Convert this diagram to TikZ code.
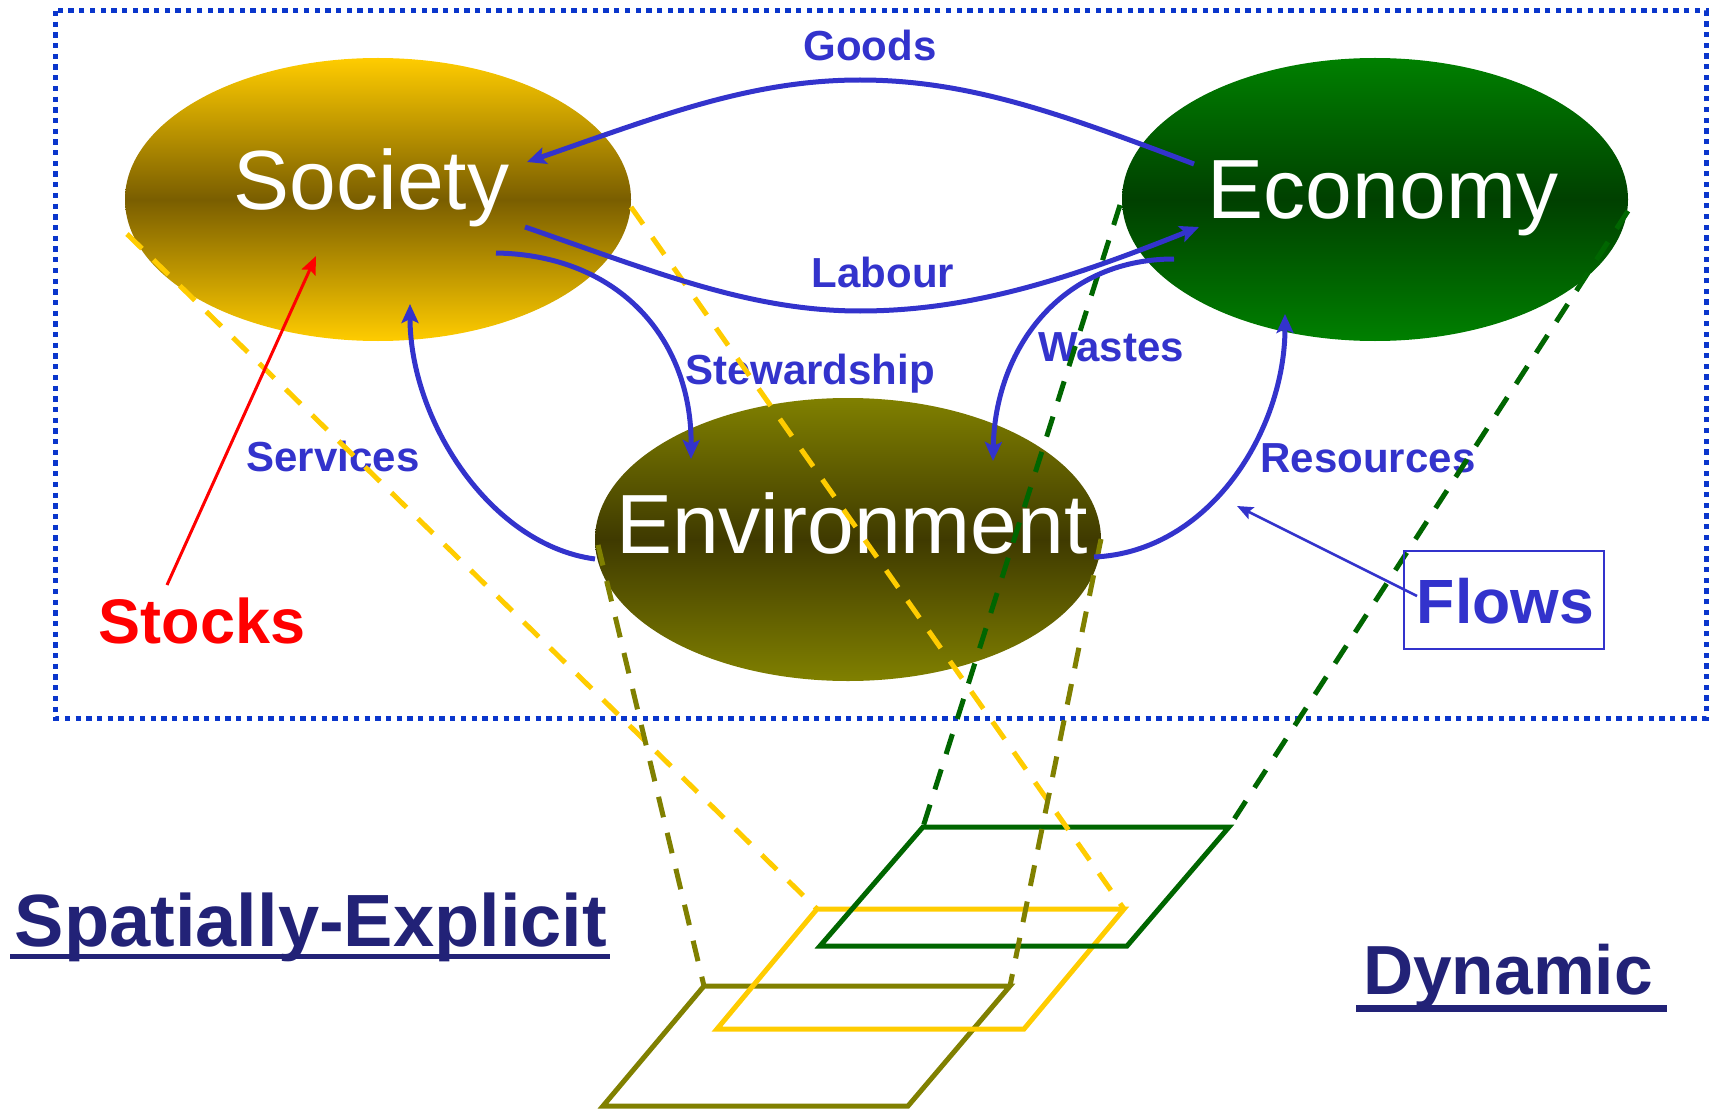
\documentclass[tikz,border=0pt]{standalone}
\usepackage{fontspec}
\setmainfont{Liberation Sans}
\usetikzlibrary{arrows.meta,shapes.geometric}
\definecolor{flowblue}{HTML}{3333CC}
\definecolor{boxblue}{HTML}{0A36CC}
\definecolor{navy}{HTML}{222277}
\definecolor{socY}{HTML}{FFCC00}
\definecolor{socD}{HTML}{7A5E00}
\definecolor{envY}{HTML}{808000}
\definecolor{envD}{HTML}{3F3A00}
\definecolor{ecoY}{HTML}{008000}
\definecolor{ecoD}{HTML}{004000}
\definecolor{pYel}{HTML}{FFCC00}
\definecolor{pOli}{HTML}{808000}
\definecolor{pGrn}{HTML}{006600}
\tikzset{
  blob/.style={ellipse, inner sep=0pt, minimum width=506pt, minimum height=283pt},
  blobtext/.style={anchor=base, inner sep=0pt, text=white, font=\fontsize{84}{84}\selectfont},
  flowlabel/.style={anchor=base, inner sep=0pt, text=flowblue, font=\bfseries\fontsize{42}{42}\selectfont},
  flowarrow/.style={draw=flowblue, line width=5pt, -{Stealth[length=19pt,width=17pt,inset=4pt]}},
  proj/.style={line width=5pt, dash pattern=on 21pt off 16pt},
  para/.style={line width=5pt, line join=miter},
  bigtitle/.style={anchor=base, inner sep=0pt, text=navy},
}
\begin{document}
\begin{tikzpicture}[x=1pt,y=-1pt]
\useasboundingbox (0,0) rectangle (1713,1110);
% dotted frame
\draw[boxblue, line width=5pt, dash pattern=on 5.3pt off 5.4pt] (55,11) rectangle (1706,718);
% ellipses
\node[blob, top color=socY, bottom color=socY, middle color=socD] (soc) at (378,199.5) {};
\node[blob, top color=ecoY, bottom color=ecoY, middle color=ecoD] (eco) at (1375,199.5) {};
\node[blob, top color=envY, bottom color=envY, middle color=envD] (env) at (848,539.5) {};
\node[blobtext] (socT) at (371.5,210) {Society};
\node[blobtext] (ecoT) at (1383,218.6) {Economy};
\node[blobtext] (envT) at (852,553) {Environment};
% flow labels
\node[flowlabel] (lGoods) at (870,61) {Goods};
\node[flowlabel] (lLabour) at (883,287.5) {Labour};
\node[flowlabel] (lStew) at (810,384) {Stewardship};
\node[flowlabel] (lWastes) at (1111,361) {Wastes};
\node[flowlabel] (lServ) at (333,471) {Services};
\node[flowlabel] (lRes) at (1368,472.5) {Resources};
% parallelograms (layers)
\coordinate (oTL) at (704,986); \coordinate (oTR) at (1010,986);
\coordinate (oBR) at (908,1106); \coordinate (oBL) at (603,1106);
\coordinate (yTL) at (817,909); \coordinate (yTR) at (1124,909);
\coordinate (yBR) at (1024,1029); \coordinate (yBL) at (717,1029);
\coordinate (gTL) at (923,827); \coordinate (gTR) at (1229,827);
\coordinate (gBR) at (1127,946); \coordinate (gBL) at (820,946);
\draw[para, pOli] (oTL) -- (oTR) -- (oBR) -- (oBL) -- cycle;
\draw[para, pYel] (yTL) -- (yTR) -- (yBR) -- (yBL) -- cycle;
\draw[para, pGrn] (gTL) -- (gTR) -- (gBR) -- (gBL) -- cycle;
% projection lines
\coordinate (sL) at (127,234); \coordinate (sR) at (631,207);
\coordinate (eL) at (598,545); \coordinate (eR) at (1101,539);
\coordinate (cL) at (1120,205); \coordinate (cR) at (1628,211);
\draw[proj, pYel] (sL) -- (yTL);
\draw[proj, pYel] (sR) -- (yTR);
\draw[proj, pOli] (eL) -- (oTL);
\draw[proj, pOli] (eR) -- (oTR);
\draw[proj, pGrn] (cL) -- (gTL);
\draw[proj, pGrn] (cR) -- (gTR);
% flows
\coordinate (goS) at (1194,164); \coordinate (goM) at (860,80); \coordinate (goE) at (527,162);
\draw[flowarrow] (goS) .. controls (1064,115) and (970,80) .. (goM) .. controls (750,80) and (657,117) .. (goE);
\coordinate (laS) at (525,227); \coordinate (laM) at (860,311); \coordinate (laE) at (1199,227);
\draw[flowarrow] (laS) .. controls (655,272) and (750,311) .. (laM) .. controls (970,311) and (1069,279) .. (laE);
\coordinate (stS) at (496,253); \coordinate (stE) at (691,459);
\draw[flowarrow] (stS) .. controls (620,255) and (692,340) .. (stE);
\coordinate (seS) at (595,559); \coordinate (seE) at (410,304);
\draw[flowarrow] (seS) .. controls (490,545) and (410,420) .. (seE);
\coordinate (waS) at (1174,259); \coordinate (waE) at (993,461);
\draw[flowarrow] (waS) .. controls (1060,259) and (995,350) .. (waE);
\coordinate (reS) at (1094,557); \coordinate (reE) at (1285,314);
\draw[flowarrow] (reS) .. controls (1210,552) and (1285,430) .. (reE);
% stocks
\node[anchor=base, inner sep=0pt, text=red, font=\bfseries\fontsize{63}{63}\selectfont] (stocks) at (202,643) {Stocks};
\coordinate (stkS) at (167,585); \coordinate (stkE) at (316,256);
\draw[red, line width=3pt, -{Stealth[length=18pt,width=15pt,inset=3pt]}] (stkS) -- (stkE);
% flows box
\node[draw=flowblue, line width=2.5pt, minimum width=200pt, minimum height=98pt, inner sep=0pt] (flowbox) at (1504,600) {};
\node[anchor=base, inner sep=0pt, text=flowblue, font=\bfseries\fontsize{62.5}{62.5}\selectfont] (flowsT) at (1505.5,623) {Flows};
\coordinate (flS) at (1417,596); \coordinate (flE) at (1237,506);
\draw[flowblue, line width=2.5pt, -{Stealth[length=16pt,width=13pt,inset=3pt]}] (flS) -- (flE);
% titles
\node[bigtitle, font=\bfseries\fontsize{74}{74}\selectfont] (spat) at (311,946) {Spatially-Explicit};
\fill[navy] (10,954) rectangle (610,958.5);
\node[bigtitle, font=\bfseries\fontsize{69.5}{69.5}\selectfont] (dyn) at (1508,994) {Dynamic};
\fill[navy] (1356,1005) rectangle (1667,1012);
\end{tikzpicture}
\end{document}
